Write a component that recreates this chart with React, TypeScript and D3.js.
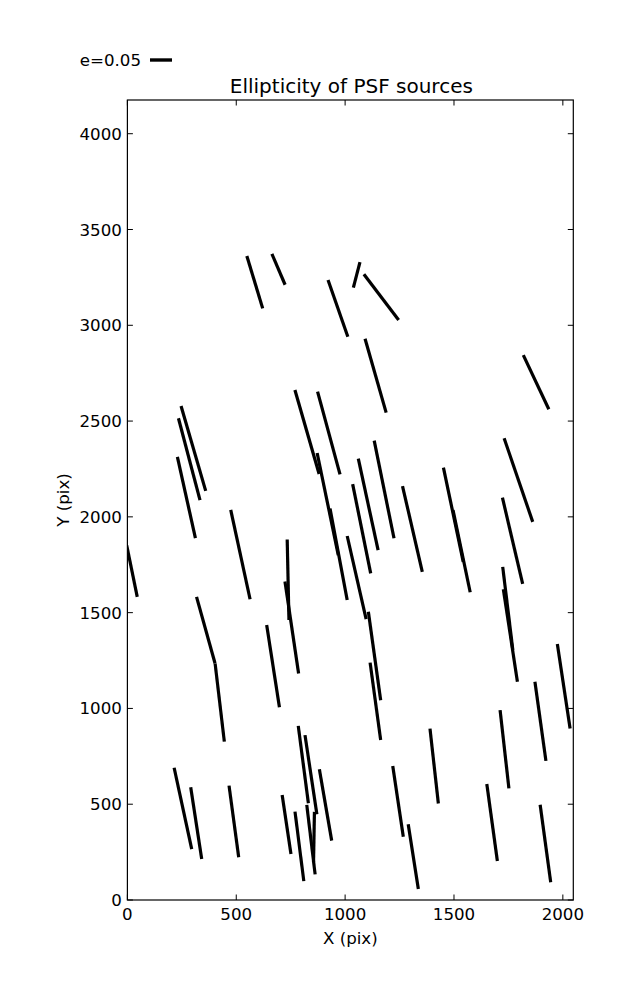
import React from "react";
import * as d3 from "d3";

// Source positions (CCD pixels) and ellipticity vector components
const SRC_X = [585, 694, 967, 1053, 1166, 1140, 1877, 303, 284, 271, 519, 21, 825, 925, 920, 970, 738, 755, 360, 424, 669, 1179, 1796, 1106, 1076, 1309, 1497, 1535, 1769, 1053, 1135, 1139, 1747, 1759, 2004, 1897, 1732, 1409, 1243, 1313, 1675, 1920, 255, 316, 489, 808, 843, 910, 731, 790, 843, 857];
const SRC_Y = [3225, 3292, 3088, 3263, 3147, 2737, 2703, 2357, 2301, 2101, 1803, 1717, 2443, 2438, 2067, 1805, 1672, 1422, 1409, 1031, 1221, 2143, 2192, 2065, 1938, 1937, 2011, 1821, 1875, 1683, 1274, 1037, 1522, 1381, 1116, 933, 787, 699, 515, 226, 405, 295, 478, 401, 410, 707, 654, 496, 394, 280, 315, 329];
const E_U = [0.036, 0.030, 0.045, -0.015, 0.079, 0.048, 0.058, 0.056, 0.049, 0.041, 0.044, 0.024, 0.055, 0.051, 0.048, 0.039, 0.004, 0.031, 0.042, 0.021, 0.029, 0.045, 0.065, 0.045, 0.041, 0.045, 0.045, 0.039, 0.046, 0.043, 0.028, 0.024, 0.023, 0.032, 0.029, 0.025, 0.020, 0.019, 0.024, 0.023, 0.024, 0.024, 0.040, 0.025, 0.022, 0.023, 0.027, 0.028, 0.020, 0.020, 0.019, -0.002];
const E_V = [-0.119, -0.070, -0.129, -0.058, -0.104, -0.168, -0.123, -0.193, -0.186, -0.185, -0.203, -0.117, -0.191, -0.188, -0.232, -0.208, -0.183, -0.209, -0.151, -0.178, -0.187, -0.222, -0.190, -0.208, -0.203, -0.195, -0.214, -0.187, -0.196, -0.189, -0.201, -0.176, -0.189, -0.210, -0.192, -0.180, -0.178, -0.170, -0.161, -0.147, -0.175, -0.176, -0.185, -0.163, -0.163, -0.176, -0.180, -0.162, -0.134, -0.158, -0.158, -0.114];

const X_TICKS = [0, 500, 1000, 1500, 2000];
const Y_TICKS = [0, 500, 1000, 1500, 2000, 2500, 3000, 3500, 4000];
const X_DOMAIN = [0, 2048];
const Y_DOMAIN = [0, 4176];
const KEY_E = 0.05;

export default function App() {
  const W = 637, H = 1000;
  const left = 127.4, top = 100, pw = 445.9, ph = 800;
  const x = d3.scaleLinear().domain(X_DOMAIN).range([left, left + pw]);
  const y = d3.scaleLinear().domain(Y_DOMAIN).range([top + ph, top]);
  const len = d3.scaleLinear().domain([0, KEY_E]).range([0, 22]);
  const font = "DejaVu Sans, sans-serif";
  const tl = 5.5;

  const segs = SRC_X.map((sx, i) => {
    const cx = x(sx), cy = y(SRC_Y[i]);
    const dx = len(E_U[i]), dy = -len(E_V[i]);
    return { x1: cx - dx / 2, y1: cy - dy / 2, x2: cx + dx / 2, y2: cy + dy / 2 };
  });

  return (
    <svg width={W} height={H} style={{ position: "absolute", left: 0, top: 0, background: "#fff" }}>
      <defs>
        <clipPath id="plotclip">
          <rect x={left} y={top} width={pw} height={ph} />
        </clipPath>
      </defs>
      <rect x={0} y={0} width={W} height={H} fill="#fff" />
      <g clipPath="url(#plotclip)">
        {segs.map((s, i) => (
          <line key={i} x1={s.x1} y1={s.y1} x2={s.x2} y2={s.y2} stroke="#000" strokeWidth={3.2} />
        ))}
      </g>
      {X_TICKS.map((t) => (
        <g key={"xt" + t}>
          <line x1={x(t)} x2={x(t)} y1={top + ph} y2={top + ph - tl} stroke="#000" strokeWidth={1} />
          <line x1={x(t)} x2={x(t)} y1={top} y2={top + tl} stroke="#000" strokeWidth={1} />
          <text x={x(t)} y={top + ph + 20} textAnchor="middle" fontFamily={font} fontSize={16.67}>{t}</text>
        </g>
      ))}
      {Y_TICKS.map((t) => (
        <g key={"yt" + t}>
          <line x1={left} x2={left + tl} y1={y(t)} y2={y(t)} stroke="#000" strokeWidth={1} />
          <line x1={left + pw} x2={left + pw - tl} y1={y(t)} y2={y(t)} stroke="#000" strokeWidth={1} />
          <text x={left - 5.5} y={y(t)} dy="0.36em" textAnchor="end" fontFamily={font} fontSize={16.67}>{t}</text>
        </g>
      ))}
      <rect x={left} y={top} width={pw} height={ph} fill="none" stroke="#000" strokeWidth={1.2} />
      <text x={left + pw / 2 + 1} y={top - 7} textAnchor="middle" fontFamily={font} fontSize={20}>Ellipticity of PSF sources</text>
      <text x={left + pw / 2} y={944} textAnchor="middle" fontFamily={font} fontSize={16.67}>X (pix)</text>
      <text transform={`translate(69,500) rotate(-90)`} textAnchor="middle" fontFamily={font} fontSize={16.67}>Y (pix)</text>
      <line x1={150} x2={150 + len(KEY_E)} y1={60} y2={60} stroke="#000" strokeWidth={3.4} />
      <text x={141} y={60} dy="0.36em" textAnchor="end" fontFamily={font} fontSize={16.67}>e=0.05</text>
    </svg>
  );
}
